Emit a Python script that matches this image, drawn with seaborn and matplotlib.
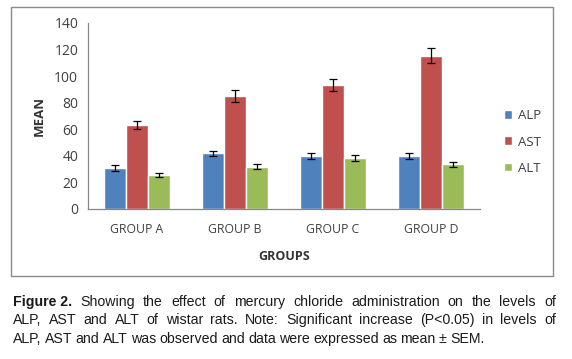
import matplotlib
matplotlib.use("Agg")
import matplotlib.pyplot as plt
from matplotlib import font_manager as fm
from matplotlib.patches import Rectangle
import seaborn as sns
import pandas as pd
import numpy as np

groups = ["GROUP A", "GROUP B", "GROUP C", "GROUP D"]
enzymes = ["ALP", "AST", "ALT"]
alp = [30.9, 41.9, 40.1, 40.1]
ast = [63.3, 85.0, 93.3, 115.4]
alt = [25.3, 31.9, 38.6, 33.6]
alp_sem = [2.0, 2.0, 2.2, 2.1]
ast_sem = [3.0, 4.8, 4.4, 5.8]
alt_sem = [1.5, 1.9, 2.1, 1.8]
colors = ["#4F81BD", "#C0504D", "#9BBB59"]

rows = []
for g, a, s, t in zip(groups, alp, ast, alt):
    rows += [(g, "ALP", a), (g, "AST", s), (g, "ALT", t)]
df = pd.DataFrame(rows, columns=["group", "enzyme", "mean"])
sems = {"ALP": alp_sem, "AST": ast_sem, "ALT": alt_sem}

sns.set_theme(style="white")
names = {f.name for f in fm.fontManager.ttflist}
narrow = "Liberation Sans Narrow" if "Liberation Sans Narrow" in names else "Liberation Sans"
plt.rcParams["font.family"] = ["Open Sans", "DejaVu Sans"]

W, H = 572, 359
fig = plt.figure(figsize=(W/100, H/100), dpi=100)
ax = fig.add_axes([88/W, 1-209/H, (480-88)/W, (209-23)/H])

sns.barplot(data=df, x="group", y="mean", hue="enzyme", hue_order=enzymes,
            order=groups, palette=colors, width=0.67, errorbar=None,
            saturation=1, ax=ax, legend=True)

for cont, enz in zip(ax.containers, enzymes):
    for bar, err in zip(cont, sems[enz]):
        cx = bar.get_x() + bar.get_width()/2
        ax.errorbar(cx, bar.get_height(), yerr=err, color="black", lw=0.9,
                    capsize=2.8, capthick=0.9)

ax.set_ylim(0, 140)
ax.set_yticks(range(0, 141, 20))
ax.set_xlim(-0.5, 3.5)
for s in ["top", "right"]:
    ax.spines[s].set_visible(False)
for s in ["left", "bottom"]:
    ax.spines[s].set_color("#868686")
    ax.spines[s].set_linewidth(0.9)
ax.set_xticks(np.arange(-0.5, 3.6, 1.0), minor=True)
ax.tick_params(axis="x", which="major", length=0, labelsize=8.8, pad=10, labelcolor="#404040")
ax.tick_params(axis="x", which="minor", length=4, direction="out", color="#868686", width=0.9)
ax.tick_params(axis="y", length=4, direction="out", color="#868686", width=0.9,
               labelsize=10, pad=3, labelcolor="#404040")
ax.set_xlabel("GROUPS", fontsize=9, fontweight="bold", labelpad=10, color="#333333")
ax.set_ylabel("MEAN", fontsize=9.5, fontweight="bold", labelpad=6, color="#333333")

h, l = ax.get_legend_handles_labels()
ax.legend(h, l, loc="center left", bbox_to_anchor=(492/W, 1-142/H),
          bbox_transform=fig.transFigure, frameon=False, fontsize=9.5,
          handlelength=0.65, handleheight=0.65, handletextpad=0.45, labelspacing=1.0,
          labelcolor="#404040")

fig.patches.append(Rectangle((11/W, 1-276/H), (553-11)/W, (276-7)/H,
                             transform=fig.transFigure, fill=False,
                             edgecolor="#8a8a8a", lw=1.0))

caption = [
    ("Figure 2.", "Showing the effect of mercury chloride administration on the levels of", True),
    ("", "ALP, AST and ALT of wistar rats. Note: Significant increase (P<0.05) in levels of", True),
    ("", "ALP, AST and ALT was observed and data were expressed as mean \u00b1 SEM.", False),
]
ys = [302, 320, 339]
fs = 10.2
renderer = fig.canvas.get_renderer()
left_px, right_px = 13, 556
for (b, rest, justify), y in zip(caption, ys):
    words = ([(b, "bold")] if b else []) + [(w, "normal") for w in rest.split(" ")]
    texts = []
    for w, wt in words:
        t = fig.text(0, 1-y/H, w, fontsize=fs, fontweight=wt, family=narrow,
                     va="center", ha="left", color="#1a1a1a")
        texts.append(t)
    widths = [t.get_window_extent(renderer).width for t in texts]
    space = fs*0.32
    if justify and len(texts) > 1:
        space = (right_px - left_px - sum(widths)) / (len(texts)-1)
    x = left_px
    for t, w in zip(texts, widths):
        t.set_x(x/W)
        x += w + space

fig.savefig("out.png", dpi=100)
